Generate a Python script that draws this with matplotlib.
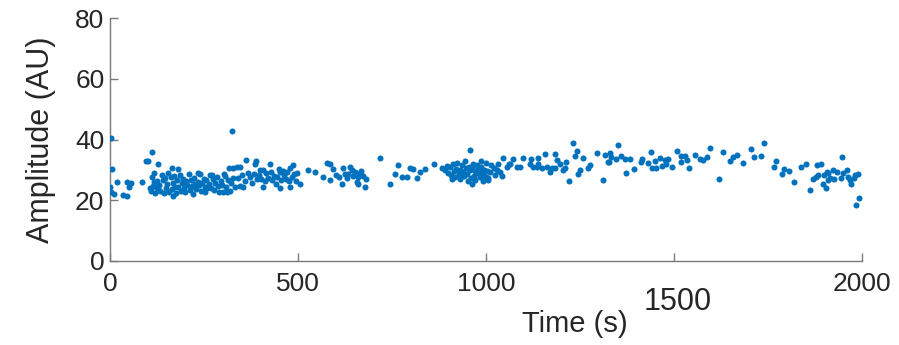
import matplotlib
matplotlib.use("Agg")
import matplotlib.pyplot as plt
import matplotlib.transforms as mtransforms

# ============================================================
# Data (time in s, amplitude in AU)
# ============================================================

start_points = [
    (3, 40.6), (4, 30.2), (0, 24.4), (2, 22.6), (18, 26.1), (10, 22.0),
    (35, 21.7), (46, 21.3), (44, 26.1), (51, 24.5), (56, 25.6), (84, 26.1),
    (95, 33.0), (101, 33.0),
]

early_cluster = [
    (111, 35.8), (128, 31.8), (164, 30.7), (180, 30.4), (118, 28.9), (235, 28.9),
    (270, 28.3), (302, 28.6), (317, 30.5), (327, 30.7), (120, 22.3), (168, 21.4),
    (253, 22.8), (301, 22.8), (310, 22.8), (324, 42.9),
    (106, 24.1), (109, 23.0), (112, 27.6), (115, 24.8), (118, 25.9), (122, 24.3),
    (125, 26.5), (128, 23.6), (131, 24.9), (134, 22.9), (137, 28.2), (140, 26.7),
    (143, 22.5), (146, 27.3), (149, 24.0), (152, 25.3), (155, 29.1), (158, 22.7),
    (161, 27.5), (164, 23.8), (167, 25.6), (170, 28.0), (173, 24.2), (176, 22.4),
    (179, 26.6), (182, 24.5), (185, 28.4), (188, 23.2), (191, 25.7), (194, 27.0),
    (197, 24.1), (200, 22.8), (203, 26.4), (206, 25.0), (209, 28.5), (212, 23.5),
    (215, 26.8), (218, 24.6), (221, 22.1), (224, 27.4), (227, 25.2), (230, 23.8),
    (233, 26.1), (237, 24.9), (240, 28.8), (243, 22.9), (246, 25.8), (249, 27.1),
    (252, 24.4), (256, 26.6), (259, 23.9), (262, 25.3), (266, 28.3), (269, 24.0),
    (273, 26.9), (277, 23.4), (280, 25.6), (284, 27.6), (288, 24.8), (291, 22.7),
    (295, 26.3), (298, 25.1), (305, 28.0), (308, 24.5), (313, 26.7), (318, 23.0),
    (322, 25.7), (328, 27.3), (333, 24.3),
]

middle_points = [
    (337, 31.0), (346, 31.0), (362, 33.2), (388, 33.0), (386, 31.8), (425, 31.8),
    (487, 31.6), (479, 30.5), (399, 29.9), (408, 29.9), (452, 29.4), (461, 29.6),
    (346, 24.7), (355, 24.5), (408, 24.5), (452, 23.9), (479, 24.5), (505, 25.2),
    (340, 27.2), (350, 28.4), (358, 26.3), (366, 29.1), (372, 27.6), (378, 25.8),
    (383, 28.7), (392, 26.9), (396, 28.2), (402, 27.0), (412, 26.2), (416, 28.9),
    (420, 27.4), (428, 29.3), (432, 26.6), (437, 28.0), (441, 25.4), (445, 27.8),
    (449, 30.2), (456, 26.8), (464, 28.3), (468, 27.1), (472, 29.4), (476, 26.2),
    (483, 27.7), (490, 28.6), (494, 26.5), (498, 29.0),
    (527, 29.9), (545, 29.4), (576, 32.1), (585, 31.8), (594, 30.3), (620, 30.5),
    (638, 31.0), (643, 29.9), (567, 27.7), (585, 26.6), (616, 25.5), (656, 25.9),
    (652, 29.4), (665, 28.9), (674, 28.1), (678, 24.5), (660, 25.5),
    (600, 28.2), (608, 27.6), (625, 28.8), (630, 27.3), (634, 28.6), (646, 27.9),
    (660, 27.5), (668, 29.6), (680, 27.0),
    (718, 33.8), (765, 31.6), (798, 30.5), (807, 30.3), (838, 30.3), (862, 31.9),
    (825, 29.4), (758, 28.5), (776, 27.7), (789, 27.7), (816, 27.2), (745, 25.5),
]

second_cluster = [
    (882, 30.5), (891, 29.9), (957, 36.5), (988, 32.9), (909, 27.0), (962, 25.5),
    (896, 31.2), (900, 29.0), (904, 30.8), (907, 28.2), (912, 31.9), (915, 29.6),
    (918, 27.6), (921, 30.4), (924, 32.4), (927, 28.8), (930, 30.0), (932, 26.9),
    (935, 31.5), (938, 29.3), (941, 27.9), (943, 32.8), (946, 30.6), (949, 28.5),
    (951, 26.4), (954, 31.1), (957, 29.8), (959, 27.3), (962, 30.9), (965, 32.0),
    (967, 28.1), (970, 29.5), (972, 26.8), (975, 31.6), (978, 28.9), (980, 30.3),
    (983, 27.5), (985, 29.2), (988, 31.0), (991, 28.4), (993, 26.2), (996, 30.1),
    (999, 27.8), (1002, 29.6), (1000, 32.2), (1004, 26.6), (1013, 31.6),
    (1024, 28.3), (1033, 32.0),
]

late_points = [
    (1006, 27.2), (1011, 29.4), (1020, 30.5), (1029, 29.9), (1037, 29.4), (1042, 28.1),
    (1046, 33.8), (1055, 31.0), (1060, 31.8), (1064, 31.8), (1073, 33.5), (1082, 31.0),
    (1090, 31.0), (1098, 33.8), (1117, 31.8), (1125, 31.0), (1136, 31.0), (1119, 33.5),
    (1139, 33.8), (1139, 31.8), (1148, 30.7), (1161, 31.0), (1157, 35.2), (1170, 29.4),
    (1175, 30.5), (1184, 30.7), (1184, 35.2), (1188, 33.2), (1197, 31.8), (1205, 29.9),
    (1210, 30.7), (1214, 32.5), (1222, 26.3), (1231, 38.7), (1237, 34.5), (1243, 36.3),
    (1246, 28.5), (1250, 29.9), (1259, 33.8), (1272, 30.5), (1277, 31.6), (1294, 35.6),
    (1312, 26.6), (1316, 34.9), (1325, 32.7),
    (1350, 38.2), (1330, 35.4), (1332, 34.3), (1359, 34.7), (1347, 33.6), (1327, 32.7),
    (1371, 33.6), (1383, 33.6), (1372, 29.1), (1393, 30.2), (1414, 33.5), (1411, 32.7),
    (1432, 32.1), (1439, 35.8), (1449, 32.9), (1441, 30.7), (1451, 30.5), (1464, 33.8),
    (1476, 33.2), (1485, 33.5), (1469, 31.4), (1480, 31.9), (1494, 30.8), (1507, 36.2),
    (1519, 34.7), (1529, 34.7), (1518, 32.5), (1535, 33.1), (1541, 30.5), (1556, 34.9),
    (1569, 33.6), (1576, 33.2), (1589, 34.1), (1596, 37.1), (1620, 27.0), (1631, 36.0),
    (1649, 33.0), (1658, 34.1),
]

end_points = [
    (1667, 34.9), (1684, 32.4), (1704, 36.9), (1714, 34.3), (1731, 34.5), (1739, 38.9),
    (1771, 32.9), (1766, 30.8), (1793, 30.2), (1806, 29.7), (1788, 28.5), (1820, 25.9),
    (1838, 31.0), (1851, 31.9), (1862, 23.4), (1881, 31.6), (1890, 31.9), (1870, 27.0),
    (1878, 27.7), (1884, 28.3), (1899, 28.3), (1906, 29.4), (1910, 28.9), (1895, 25.3),
    (1904, 23.9), (1909, 26.6), (1915, 27.2), (1924, 29.9), (1933, 29.4), (1926, 27.0),
    (1943, 27.4), (1948, 34.3), (1959, 29.9), (1950, 28.9), (1963, 27.7), (1968, 26.6),
    (1972, 25.2), (1981, 28.3), (1990, 28.5), (1978, 27.4), (1993, 20.8), (1983, 18.4),
]

x_ticks = [0, 500, 1000, 1500, 2000]
y_ticks = [0, 20, 40, 60, 80]

# ============================================================
# Plot
# ============================================================

plt.rcParams["font.family"] = ["Liberation Sans", "DejaVu Sans"]

TEXT = "#262626"
AXIS = "#7a7a7a"
DOT = "#0072BD"

fig = plt.figure(figsize=(8.99, 3.45), dpi=100)
ax = fig.add_axes([110 / 899, 84 / 345, 752 / 899, 243 / 345])

all_points = start_points + early_cluster + middle_points + second_cluster + late_points + end_points
times = [p[0] for p in all_points]
amps = [p[1] for p in all_points]

ax.scatter(times, amps, s=19, color=DOT, linewidths=0, zorder=3)

ax.set_xlim(0, 2000)
ax.set_ylim(0, 80)

ax.spines["top"].set_visible(False)
ax.spines["right"].set_visible(False)
for side in ["left", "bottom"]:
    ax.spines[side].set_color(AXIS)
    ax.spines[side].set_linewidth(1.0)

ax.set_xticks(x_ticks)
# the 1500 label sits lower and larger in the reference
ax.set_xticklabels(["" if t == 1500 else str(t) for t in x_ticks])
ax.set_yticks(y_ticks)
ax.set_yticklabels([str(t) for t in y_ticks])

ax.tick_params(direction="in", length=6, width=1.0, color=AXIS,
               labelsize=19, labelcolor=TEXT)
ax.tick_params(axis="x", pad=8)
ax.tick_params(axis="y", pad=4)

trans = mtransforms.blended_transform_factory(ax.transData, ax.transAxes)
ax.text(1510, -0.105, "1500", transform=trans, ha="center", va="top",
        fontsize=22, color=TEXT)

ax.set_xlabel("Time (s)", fontsize=21, color=TEXT)
ax.xaxis.set_label_coords(0.618, -0.2)
ax.set_ylabel("Amplitude (AU)", fontsize=22, color=TEXT, labelpad=14)

fig.savefig("out.png", dpi=100)
